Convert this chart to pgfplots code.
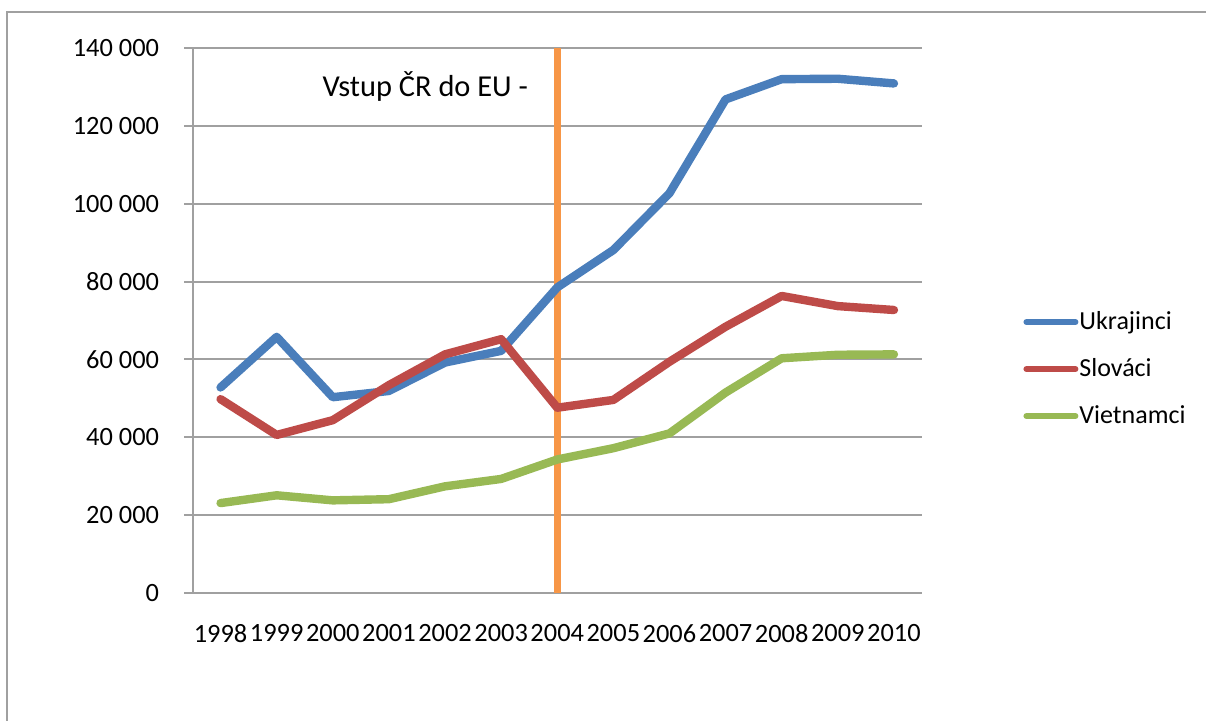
\documentclass[border=0pt]{standalone}
\usepackage{pgfplots}
\pgfplotsset{compat=1.18}
\usepackage{fontspec}
\setmainfont{Carlito}
\definecolor{ukr}{HTML}{4A7EBB}
\definecolor{slo}{HTML}{BE4B48}
\definecolor{vie}{HTML}{98B954}
\definecolor{eu}{HTML}{F79646}
\definecolor{gridgray}{HTML}{A0A0A0}
\definecolor{framegray}{HTML}{A0A0A0}
\begin{document}
\begin{tikzpicture}
\clip (0,0) rectangle (603pt,360pt);
\draw[framegray, line width=1pt] (3.35pt,-10pt) rectangle (620pt,353.85pt);
\begin{axis}[
  at={(96.25pt,63.5pt)}, anchor=south west,
  width=364.75pt, height=272.5pt, scale only axis,
  xmin=-0.5, xmax=12.5, ymin=0, ymax=140000,
  scaled y ticks=false,
  axis lines*=left,
  axis line style={draw=gridgray, line width=1pt, -},
  xtick={0,...,12},
  xticklabels={1998,1999,2000,2001,2002,2003,2004,2005,2006,2007,2008,2009,2010},
  minor xtick={-0.5,0.5,...,12.5},
  xtick style={draw=none},
  minor tick style={draw=gridgray, line width=1pt},
  ytick={0,20000,40000,60000,80000,100000,120000,140000},
  yticklabels={0,20 000,40 000,60 000,80 000,100 000,120 000,140 000},
  ytick style={draw=gridgray, line width=1pt},
  tick align=outside,
  major tick length=4pt, minor tick length=4pt,
  ymajorgrids,
  major grid style={draw=gridgray, line width=1pt},
  font=\fontsize{13}{15.6}\selectfont,
  ticklabel style={font=\fontsize{13.2}{15.6}\selectfont},
  xticklabel style={anchor=north, inner sep=0pt, yshift=-11.5pt},
  yticklabel style={anchor=east, inner sep=0pt, xshift=-12.5pt},
  legend style={at={(rel axis cs:1.1385,0.411)}, anchor=west, draw=none, fill=none,
    inner sep=0pt, row sep=9pt, font=\fontsize{13}{15.6}\selectfont,
    /tikz/every odd column/.append style={column sep=-1.5pt}},
  legend cell align=left,
  legend image code/.code={\draw[#1, line width=3pt, line cap=round] (0pt,0pt) -- (24.5pt,0pt);},
  clip=false,
]
\addplot[eu, line width=3.5pt, forget plot] coordinates {(6,0) (6,140000)};
\addplot[ukr, line width=4.2pt, line cap=round, line join=round] coordinates {
(0,52800) (1,65800) (2,50300) (3,51900) (4,59200) (5,62200) (6,78500)
(7,88100) (8,102700) (9,126800) (10,132000) (11,132100) (12,130900)};
\addlegendentry{Ukrajinci}
\addplot[slo, line width=4.2pt, line cap=round, line join=round] coordinates {
(0,49800) (1,40600) (2,44400) (3,53400) (4,61300) (5,65200) (6,47600)
(7,49600) (8,59400) (9,68400) (10,76300) (11,73700) (12,72700)};
\addlegendentry{Slováci}
\addplot[vie, line width=4.2pt, line cap=round, line join=round] coordinates {
(0,23100) (1,25100) (2,23800) (3,24100) (4,27400) (5,29300) (6,34300)
(7,37200) (8,41000) (9,51500) (10,60300) (11,61200) (12,61300)};
\addlegendentry{Vietnamci}
\node[anchor=west, inner sep=0pt, font=\fontsize{15.2}{18}\selectfont] at (axis cs:1.81,130000) {Vstup ČR do EU -};
\end{axis}
\end{tikzpicture}
\end{document}
